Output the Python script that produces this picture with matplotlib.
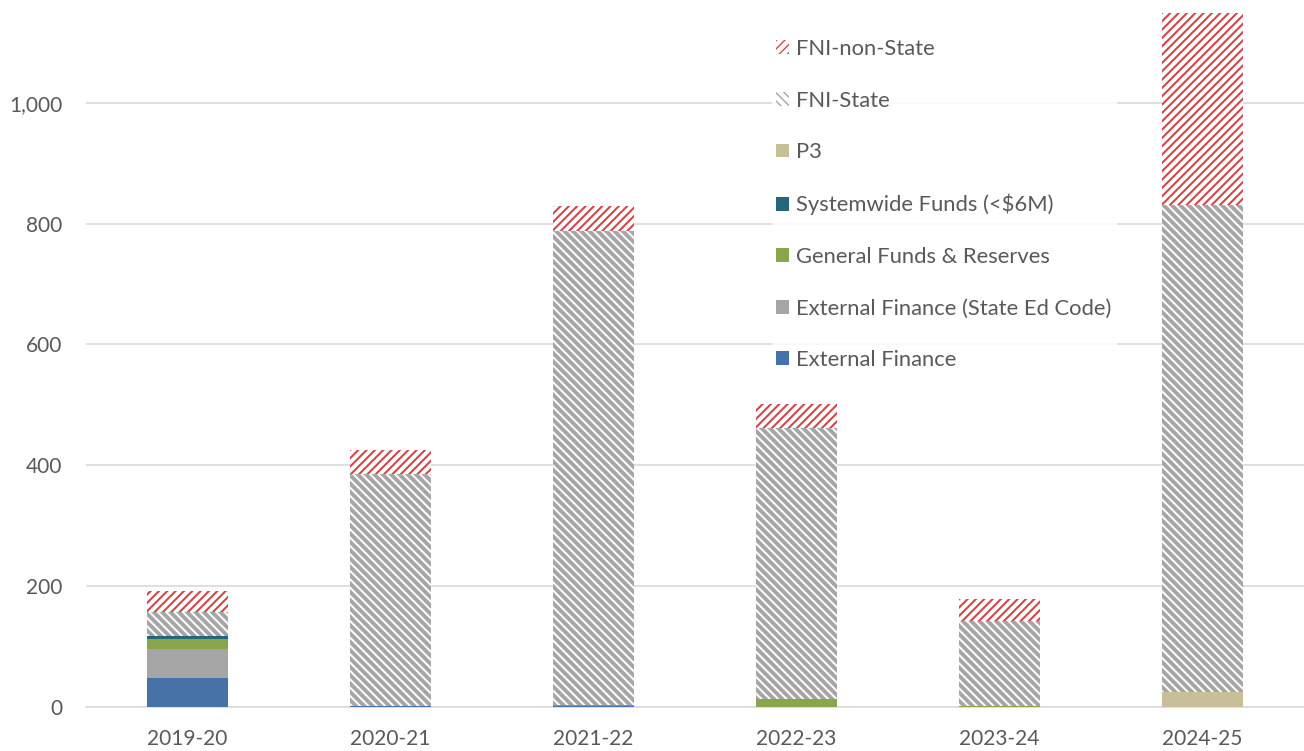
import matplotlib.pyplot as plt
import numpy as np

years = ['2019-20', '2020-21', '2021-22', '2022-23', '2023-24', '2024-25']
ext_finance = [48, 1, 1, 0, 0, 0]
ext_finance_state = [48, 0, 0, 0, 0, 0]
general_funds = [16, 1, 3, 13, 1, 0]
systemwide = [6, 0, 0, 0, 0, 0]
p3 = [0, 0, 0, 0, 0, 24]
fni_state = [39, 383, 783, 448, 141, 807]
fni_non_state = [35, 40, 42, 40, 36, 318]

series = [
    ('External Finance', ext_finance, '#4672A8', None, None),
    ('External Finance (State Ed Code)', ext_finance_state, '#A5A5A5', None, None),
    ('General Funds & Reserves', general_funds, '#8AA64B', None, None),
    ('Systemwide Funds (<$6M)', systemwide, '#25677A', None, None),
    ('P3', p3, '#C8BF9A', None, None),
    ('FNI-State', fni_state, 'white', '\\' * 4, '#A5A5A5'),
    ('FNI-non-State', fni_non_state, 'white', '/' * 4, '#D0474B'),
]

plt.rcParams['font.family'] = ['Lato', 'DejaVu Sans']
text_color = '#595959'
grid_color = '#D9D9D9'

fig = plt.figure(figsize=(13.04, 7.51), dpi=100)
ax = fig.add_axes([0.066, 0.0586, 0.934, 0.9414])

x = np.arange(len(years))
bottom = np.zeros(len(years))
handles = []
for label, vals, color, hatch, ecolor in series:
    vals = np.array(vals, dtype=float)
    if hatch:
        bars = ax.bar(x, vals, 0.4, bottom=bottom, color=color, hatch=hatch,
                      edgecolor=ecolor, linewidth=0, label=label, zorder=3)
        for b in bars:
            if hasattr(b, 'set_hatch_linewidth'):
                b.set_hatch_linewidth(2.8 if label == 'FNI-State' else 1.5)
    else:
        bars = ax.bar(x, vals, 0.4, bottom=bottom, color=color,
                      linewidth=0, label=label, zorder=3)
    handles.append(bars)
    bottom += vals

ax.set_xlim(-0.5, len(years) - 0.5)
ax.set_ylim(0, 1170)
ax.set_yticks([0, 200, 400, 600, 800, 1000])
ax.set_yticklabels(['0', '200', '400', '600', '800', '1,000'])
ax.set_xticks(x)
ax.set_xticklabels(years)
ax.grid(axis='y', color=grid_color, linewidth=1.2, zorder=0)
ax.tick_params(length=0, labelsize=15, colors=text_color)
ax.tick_params(axis='x', pad=16)
ax.tick_params(axis='y', pad=17)
for s in ['top', 'right', 'left']:
    ax.spines[s].set_visible(False)
ax.spines['bottom'].set_color(grid_color)
ax.spines['bottom'].set_linewidth(1.2)

leg = ax.legend(handles[::-1], [s[0] for s in series][::-1], loc='upper left',
                bbox_to_anchor=(0.563, 0.951), frameon=True, fontsize=15.8,
                handlelength=0.6, handleheight=0.6, handletextpad=0.3,
                labelspacing=1.44, borderaxespad=0, borderpad=0.2)
leg.get_frame().set_facecolor('white')
leg.get_frame().set_edgecolor('white')
for t in leg.get_texts():
    t.set_color(text_color)

fig.savefig('out.png', dpi=100)
